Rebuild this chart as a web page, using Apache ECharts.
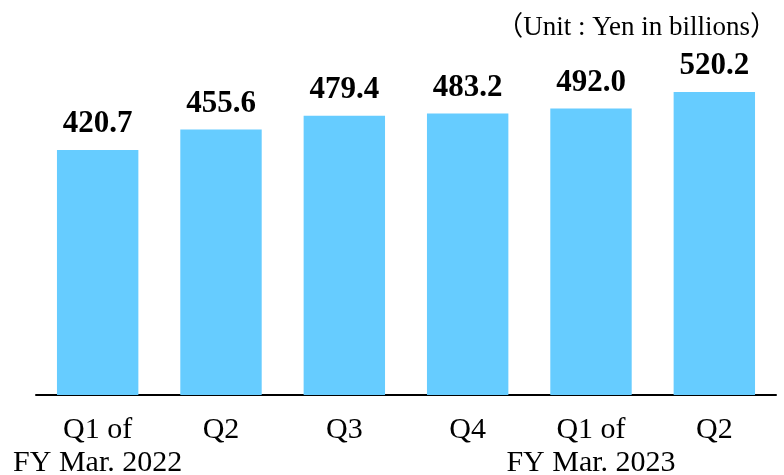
<!DOCTYPE html>
<html>
<head>
<meta charset="utf-8">
<script src="https://cdn.jsdelivr.net/npm/echarts@6/dist/echarts.min.js"></script>
<style>
  html, body { margin: 0; padding: 0; background: #fff; }
  #chart { width: 784px; height: 475px; }
</style>
</head>
<body>
<div id="chart"></div>
<script>
const categories = ['Q1 of\nFY Mar. 2022', 'Q2', 'Q3', 'Q4', 'Q1 of\nFY Mar. 2023', 'Q2']
const values = [420.7, 455.6, 479.4, 483.2, 492.0, 520.2]
const unitText = '（Unit : Yen in billions）'

const serif = '"Liberation Serif", "Times New Roman", "Noto Sans CJK JP", serif'

let myChart = echarts.init(document.getElementById('chart'))
let option = {
  animation: false,
  title: {
    text: unitText,
    right: 2,
    top: 9,
    textStyle: { fontFamily: serif, fontSize: 27, fontWeight: 'normal', color: '#000' }
  },
  grid: { left: 36, right: 8, top: 45.5, bottom: 80, outerBoundsMode: 'none', containLabel: false },
  xAxis: {
    type: 'category',
    data: categories,
    axisLine: { lineStyle: { color: '#000', width: 2 } },
    axisTick: { show: false },
    axisLabel: {
      interval: 0,
      margin: 19,
      fontFamily: serif,
      fontSize: 30,
      lineHeight: 33,
      color: '#000',
      verticalAlign: 'top'
    }
  },
  yAxis: {
    type: 'value',
    min: 0,
    max: 600,
    show: false,
    splitLine: { show: false }
  },
  series: [
    {
      type: 'bar',
      data: values,
      barWidth: '66%',
      itemStyle: { color: '#66CCFF' },
      label: {
        show: true,
        position: 'top',
        distance: 10,
        formatter: p => p.value.toFixed(1),
        fontFamily: serif,
        fontSize: 31,
        fontWeight: 'bold',
        color: '#000'
      }
    }
  ]
}
myChart.setOption(option)
</script>
</body>
</html>
